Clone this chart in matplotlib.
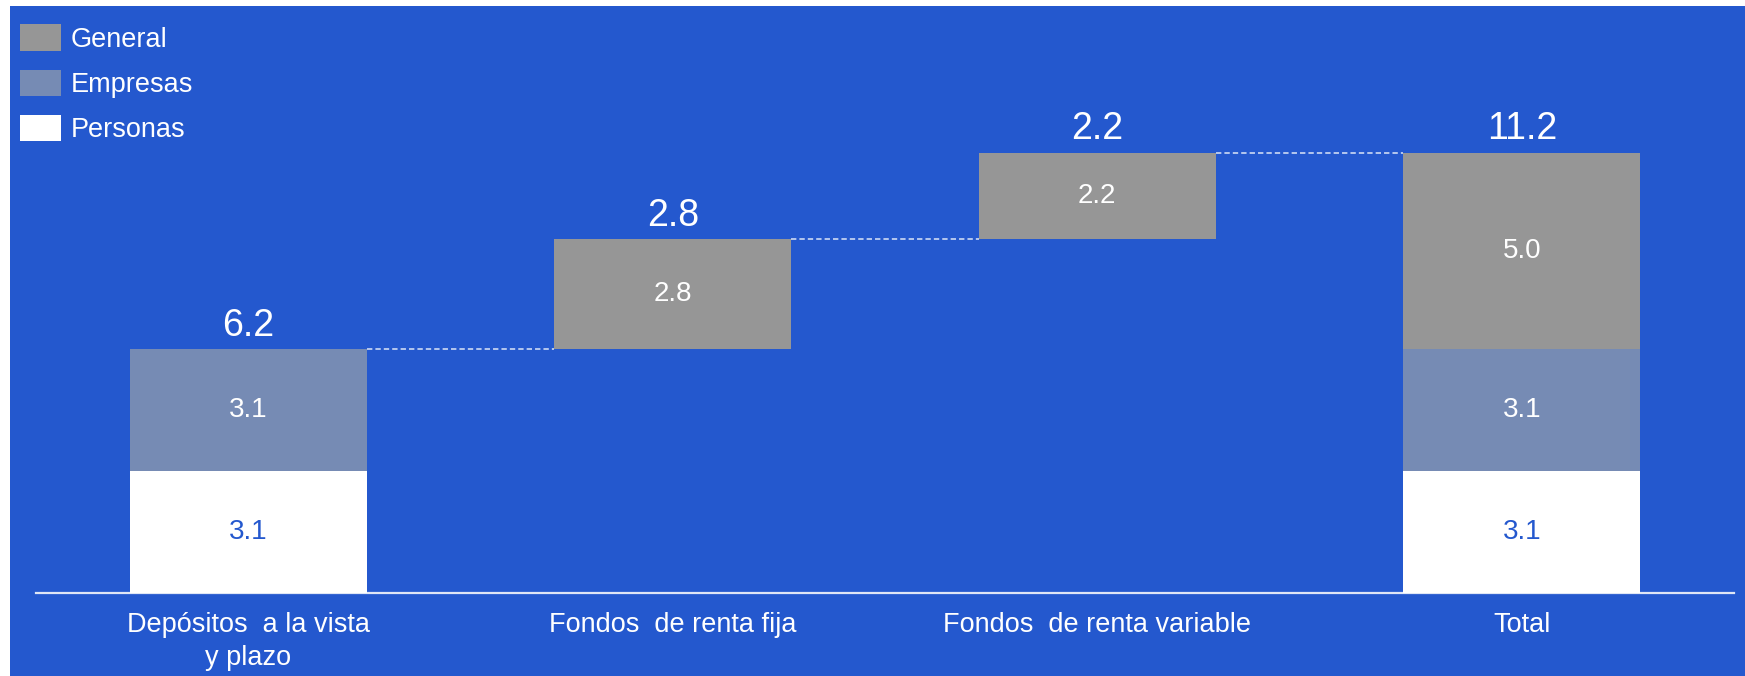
import numpy as np
import matplotlib.pyplot as plt
from matplotlib.patches import Rectangle


# =====================================================
# DATA
# =====================================================

categories = [
    "Depósitos  a la vista\ny plazo",
    "Fondos  de renta fija",
    "Fondos  de renta variable",
    "Total",
]

personas = [3.1, 0.0, 0.0, 3.1]
empresas = [3.1, 0.0, 0.0, 3.1]
general = [0.0, 2.8, 2.2, 5.0]

# floating start of each bar (waterfall), total bar starts at zero
bar_base = [0.0, 6.2, 9.0, 0.0]

top_labels = ["6.2", "2.8", "2.2", "11.2"]


# =====================================================
# STYLE
# =====================================================

BLUE = "#2458ce"
GRAY = "#969696"
STEEL = "#768bb4"
WHITE = "#ffffff"

plt.rcParams["font.family"] = ["Liberation Sans", "DejaVu Sans"]

x = np.arange(len(categories))
width = 0.558

personas = np.array(personas)
empresas = np.array(empresas)
general = np.array(general)
bar_base = np.array(bar_base)

bottom_emp = bar_base + personas
bottom_gen = bottom_emp + empresas
bar_top = bottom_gen + general


# =====================================================
# FIGURE
# =====================================================

fig = plt.figure(figsize=(17.45, 6.76), dpi=100)
fig.patch.set_facecolor("white")

# blue panel (white strip left and top like the source slide)
fig.patches.append(
    Rectangle(
        (10 / 1745, 0),
        1 - 10 / 1745,
        1 - 6 / 676,
        transform=fig.transFigure,
        facecolor=BLUE,
        edgecolor="none",
        zorder=-10,
    )
)

ax = fig.add_axes([36 / 1745, 1 - 592.7 / 676, (1734 - 36) / 1745, 592.7 / 676])
ax.set_facecolor("none")

b_pers = ax.bar(x, personas, width, bottom=bar_base, color=WHITE,
                label="Personas", zorder=3)
b_emp = ax.bar(x, empresas, width, bottom=bottom_emp, color=STEEL,
               label="Empresas", zorder=3)
b_gen = ax.bar(x, general, width, bottom=bottom_gen, color=GRAY,
               label="General", zorder=3)


# -----------------------------
# SEGMENT LABELS
# -----------------------------
for i in range(len(x)):

    if personas[i] > 0:
        ax.text(x[i], bar_base[i] + personas[i] / 2, f"{personas[i]:.1f}",
                ha="center", va="center", color=BLUE, fontsize=20, zorder=4)

    if empresas[i] > 0:
        ax.text(x[i], bottom_emp[i] + empresas[i] / 2, f"{empresas[i]:.1f}",
                ha="center", va="center", color=WHITE, fontsize=20, zorder=4)

    if general[i] > 0:
        ax.text(x[i], bottom_gen[i] + general[i] / 2, f"{general[i]:.1f}",
                ha="center", va="center", color=WHITE, fontsize=20, zorder=4)

    ax.annotate(top_labels[i], (x[i], bar_top[i]),
                xytext=(0, 9.5), textcoords="offset points",
                ha="center", va="baseline", color=WHITE, fontsize=27)


# -----------------------------
# DASHED CONNECTORS
# -----------------------------
for i in range(len(x) - 1):
    ax.plot([x[i] + width / 2, x[i + 1] - width / 2],
            [bar_top[i], bar_top[i]],
            color="#dde5f7", linewidth=1.1,
            linestyle=(0, (3.5, 2)), zorder=2)


# -----------------------------
# AXES
# -----------------------------
ax.set_xlim(-0.5, 3.5)
ax.set_ylim(0, 592.7 / 39.3)

ax.set_xticks(x)
ax.set_xticklabels(categories, fontsize=19.5, color=WHITE, linespacing=1.35)
ax.tick_params(axis="x", length=0, pad=14)
ax.set_yticks([])

for side in ["top", "right", "left"]:
    ax.spines[side].set_visible(False)

ax.spines["bottom"].set_color("#dfe6f6")
ax.spines["bottom"].set_linewidth(1.6)


# -----------------------------
# LEGEND
# -----------------------------
leg = fig.legend(
    [b_gen, b_emp, b_pers],
    ["General", "Empresas", "Personas"],
    loc="upper left",
    bbox_to_anchor=(20 / 1745, 1 - 24.5 / 676),
    frameon=False,
    fontsize=19.5,
    handlelength=1.51,
    handleheight=1.14,
    handletextpad=0.35,
    labelspacing=0.61,
    borderpad=0,
    borderaxespad=0,
)

for t in leg.get_texts():
    t.set_color(WHITE)

fig.savefig("out.png", dpi=100, facecolor=fig.get_facecolor())
